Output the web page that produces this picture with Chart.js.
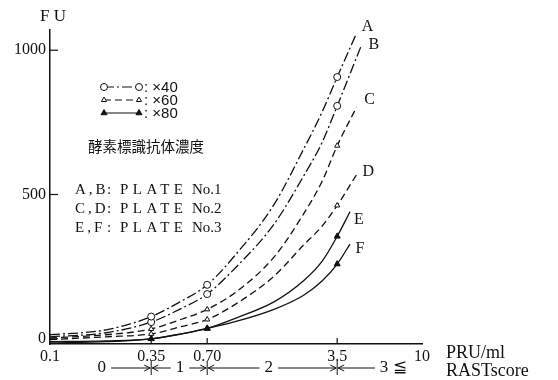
<!DOCTYPE html>
<html>
<head>
<meta charset="utf-8">
<script src="https://cdn.jsdelivr.net/npm/chart.js@4.4.1/dist/chart.umd.min.js"></script>
<style>
  html, body { margin: 0; padding: 0; background: #fff; }
</style>
</head>
<body>
<canvas id="fuChart" width="558" height="380"></canvas>
<script>
// values
const curveNames = ['A', 'B', 'C', 'D', 'E', 'F'];
const curveX = [0.1, 0.2, 0.35, 0.5, 0.7, 1.0, 1.6, 2.3, 2.9, 3.5];
const endX = [4.45, 4.75, 4.45, 4.55, 4.1, 4.1];
const valsA = [14, 31, 77, 128, 187, 293, 465, 655, 785, 907, 1059];
const valsB = [7, 21, 58, 103, 155, 248, 397, 562, 680, 807, 1021];
const valsC = [3, 14, 34, 66, 102, 162, 283, 431, 545, 669, 803];
const valsD = [-3, 7, 17, 41, 67, 121, 217, 324, 390, 462, 579];
const valsE = [-10, -7, 0, 16, 36, 72, 128, 200, 268, 355, 440];
const valsF = [-14, -10, 0, 16, 36, 60, 102, 150, 200, 259, 328];
const markerX = [0.35, 0.7, 3.5];

const xTicks = [0.1, 0.35, 0.7, 3.5, 10];
const xTickLabels = ['0.1', '0.35', '0.70', '3.5', '10'];
const yTicks = [0, 500, 1000];

const rastBounds = [0.35, 0.7, 3.5];
const rastLabels = ['0', '1', '2', '3 ≦'];
const legendRows = ['×40', '×60', '×80'];
const plateRows = [['A,B', 'No.1'], ['C,D', 'No.2'], ['E,F', 'No.3']];

// styles
const ink = '#111';
const serif = '"Liberation Serif", "DejaVu Serif", serif';
const dashes = [[10, 3, 2, 3], [10, 3, 2, 3], [7, 4], [7, 4], [], []];
const marks = ['circle', 'circle', 'triangle', 'triangle', 'triangle', 'triangle'];
const markFill = ['#fff', '#fff', '#fff', '#fff', ink, ink];
const markSize = [3.5, 3.5, 3, 3, 3.5, 3.5];
const labelOff = [[11, -6], [12, 1], [13, -7], [10, 0], [9, 8], [10, 5]];
const rastAt = [0.19, 0.5, 1.5, 7.0];

const allVals = [valsA, valsB, valsC, valsD, valsE, valsF];

const datasets = allVals.map(function (vals, i) {
    const xs = curveX.concat([endX[i]]);
    return {
        label: curveNames[i],
        data: vals.map((v, j) => ({ x: xs[j], y: v })),
        borderColor: ink,
        borderWidth: 1.3,
        borderDash: dashes[i],
        fill: false,
        cubicInterpolationMode: 'monotone',
        pointStyle: marks[i],
        pointBackgroundColor: markFill[i],
        pointBorderColor: ink,
        pointBorderWidth: 1,
        pointRadius: ctx => markerX.includes(ctx.raw.x) ? markSize[i] : 0,
        pointHoverRadius: 0
    };
});

const extras = {
    id: 'extras',
    afterDatasetsDraw(chart) {
        const ctx = chart.ctx;
        const xs = chart.scales.x;
        const ys = chart.scales.y;
        const area = chart.chartArea;
        ctx.save();
        ctx.strokeStyle = ink;
        ctx.fillStyle = ink;
        ctx.lineWidth = 1.2;

        // inward tick marks
        yTicks.forEach(function (v) {
            const py = ys.getPixelForValue(v);
            ctx.beginPath();
            ctx.moveTo(area.left, py);
            ctx.lineTo(area.left + 8, py);
            ctx.stroke();
        });
        markerX.forEach(function (v) {
            const px = xs.getPixelForValue(v);
            ctx.beginPath();
            ctx.moveTo(px, area.bottom);
            ctx.lineTo(px, area.bottom - 6);
            ctx.stroke();
        });

        // curve letters
        ctx.font = '16px ' + serif;
        ctx.textAlign = 'center';
        ctx.textBaseline = 'middle';
        chart.data.datasets.forEach(function (ds, i) {
            const pts = chart.getDatasetMeta(i).data;
            const last = pts[pts.length - 1];
            ctx.fillText(curveNames[i], last.x + labelOff[i][0], last.y + labelOff[i][1]);
        });

        // axis titles
        ctx.font = '17px ' + serif;
        ctx.textAlign = 'left';
        ctx.fillText('F U', 40, 17);
        ctx.font = '18px ' + serif;
        ctx.fillText('PRU/ml', 446, 353);
        ctx.fillText('RASTscore', 446, 371);

        // RAST score row
        const ry = 368;
        ctx.font = '17px ' + serif;
        ctx.textAlign = 'center';
        const boxes = rastLabels.map(function (t, i) {
            const cx = xs.getPixelForValue(rastAt[i]);
            const w = ctx.measureText(t).width;
            ctx.fillText(t, cx, ry);
            return [cx - w / 2 - 5, cx + w / 2 + 5];
        });
        ctx.lineWidth = 1;
        rastBounds.forEach(function (b, i) {
            const bx = xs.getPixelForValue(b);
            ctx.beginPath();
            ctx.moveTo(bx, ry - 7);
            ctx.lineTo(bx, ry + 7);
            // arrow from the left label to the boundary
            ctx.moveTo(boxes[i][1], ry);
            ctx.lineTo(bx - 1, ry);
            ctx.moveTo(bx - 7, ry - 3);
            ctx.lineTo(bx - 1, ry);
            ctx.lineTo(bx - 7, ry + 3);
            // arrow from the right label back to the boundary
            ctx.moveTo(boxes[i + 1][0], ry);
            ctx.lineTo(bx + 1, ry);
            ctx.moveTo(bx + 7, ry - 3);
            ctx.lineTo(bx + 1, ry);
            ctx.lineTo(bx + 7, ry + 3);
            ctx.stroke();
        });

        // legend of markers
        legendRows.forEach(function (t, i) {
            const k = i * 2;
            const y = 87 + i * 13;
            ctx.setLineDash(dashes[k]);
            ctx.lineWidth = 1.2;
            ctx.beginPath();
            ctx.moveTo(104, y);
            ctx.lineTo(139, y);
            ctx.stroke();
            ctx.setLineDash([]);
            ctx.lineWidth = 1;
            ctx.fillStyle = markFill[k];
            [104, 139].forEach(function (px) {
                Chart.helpers.drawPoint(ctx, { pointStyle: marks[k], radius: markSize[k], rotation: 0, borderWidth: 1 }, px, y);
            });
            ctx.fillStyle = ink;
            ctx.font = '15px "Liberation Sans", sans-serif';
            ctx.textAlign = 'left';
            ctx.fillText(': ' + t, 144, y + 1);
        });

        ctx.font = '14.5px "Noto Sans CJK JP", sans-serif';
        ctx.textAlign = 'left';
        ctx.fillText('酵素標識抗体濃度', 88, 146);

        ctx.font = '15px ' + serif;
        plateRows.forEach(function (r, i) {
            const y = 190 + i * 19;
            ctx.letterSpacing = '3px';
            ctx.fillText(r[0], 75, y);
            ctx.fillText(':', 107, y);
            ctx.letterSpacing = '4.5px';
            ctx.fillText('PLATE', 120, y);
            ctx.letterSpacing = '0px';
            ctx.fillText(r[1], 192, y);
        });
        ctx.restore();
    }
};

new Chart(document.getElementById('fuChart'), {
    type: 'line',
    data: { datasets: datasets },
    options: {
        responsive: false,
        animation: false,
        layout: { padding: { top: 30, right: 136, bottom: 0, left: 0 } },
        plugins: { legend: { display: false }, tooltip: { enabled: false } },
        scales: {
            x: {
                type: 'logarithmic',
                min: 0.1,
                max: 10,
                grid: { display: false, drawTicks: false },
                border: { display: true, color: ink, width: 1.5 },
                afterBuildTicks: s => { s.ticks = xTicks.map(v => ({ value: v })); },
                afterFit: s => { s.height = 36; },
                ticks: {
                    autoSkip: false,
                    maxRotation: 0,
                    padding: 3,
                    color: ink,
                    font: { family: serif, size: 16 },
                    callback: (v, i) => xTickLabels[i]
                }
            },
            y: {
                min: -18,
                max: 1070,
                grid: { display: false, drawTicks: false },
                border: { display: true, color: ink, width: 1.5 },
                afterBuildTicks: s => { s.ticks = yTicks.map(v => ({ value: v })); },
                afterFit: s => { s.width = 50; },
                ticks: {
                    padding: 4,
                    color: ink,
                    font: { family: serif, size: 16 },
                    callback: v => String(v)
                }
            }
        }
    },
    plugins: [extras]
});
</script>
</body>
</html>
